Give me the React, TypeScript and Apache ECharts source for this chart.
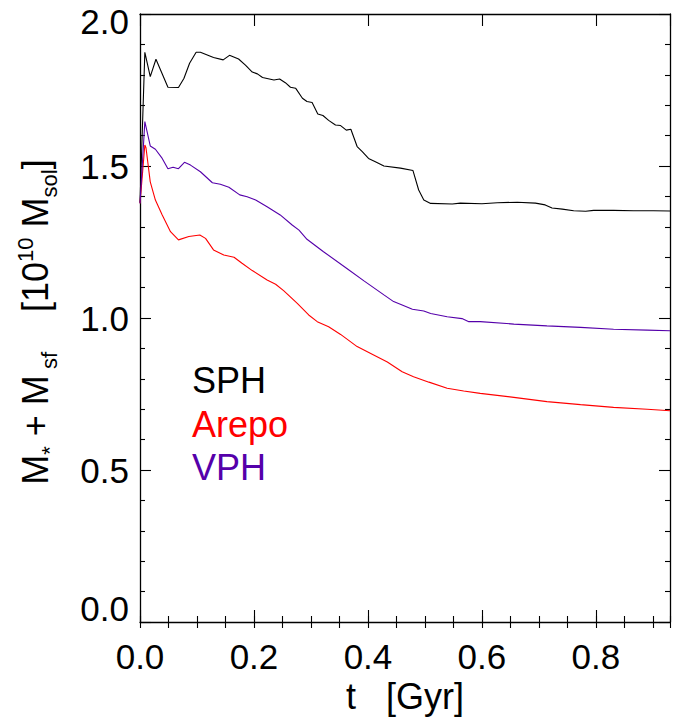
import React, { useEffect, useRef } from "react";
import * as echarts from "echarts";

const FONT = "'Liberation Sans', Arial, Helvetica, sans-serif";

const seriesNames = ["SPH", "Arepo", "VPH"];
const seriesColors = ["#000000", "#ff0000", "#5500aa"];

const sphT = [0, 0.0085, 0.018, 0.028, 0.049, 0.0675, 0.077, 0.087, 0.0985, 0.106, 0.129, 0.146, 0.157, 0.173, 0.185, 0.197, 0.206, 0.215, 0.235, 0.245, 0.255, 0.264, 0.273, 0.285, 0.293, 0.302, 0.312, 0.321, 0.331, 0.343, 0.352, 0.362, 0.37, 0.381, 0.39, 0.401, 0.413, 0.428, 0.457, 0.479, 0.489, 0.498, 0.51, 0.548, 0.562, 0.6, 0.627, 0.662, 0.694, 0.711, 0.723, 0.741, 0.761, 0.782, 0.796, 0.831, 0.866, 0.901, 0.93];
const sphV = [1.38, 1.874, 1.794, 1.851, 1.759, 1.758, 1.788, 1.838, 1.874, 1.874, 1.857, 1.849, 1.864, 1.852, 1.832, 1.809, 1.803, 1.791, 1.783, 1.786, 1.774, 1.759, 1.756, 1.723, 1.712, 1.709, 1.671, 1.666, 1.65, 1.635, 1.633, 1.618, 1.621, 1.564, 1.547, 1.525, 1.514, 1.5, 1.493, 1.485, 1.421, 1.388, 1.377, 1.375, 1.378, 1.376, 1.379, 1.381, 1.378, 1.372, 1.362, 1.358, 1.353, 1.351, 1.354, 1.354, 1.353, 1.353, 1.352];

const arepoT = [0, 0.0085, 0.0105, 0.018, 0.027, 0.039, 0.0535, 0.0675, 0.0857, 0.105, 0.115, 0.129, 0.147, 0.165, 0.179, 0.197, 0.223, 0.238, 0.252, 0.276, 0.296, 0.311, 0.331, 0.352, 0.381, 0.41, 0.434, 0.46, 0.48, 0.507, 0.539, 0.568, 0.597, 0.656, 0.714, 0.773, 0.831, 0.89, 0.93];
const arepoV = [1.377, 1.569, 1.56, 1.448, 1.388, 1.339, 1.284, 1.257, 1.268, 1.273, 1.262, 1.224, 1.207, 1.2, 1.18, 1.156, 1.125, 1.111, 1.09, 1.048, 1.01, 0.988, 0.971, 0.946, 0.906, 0.878, 0.855, 0.823, 0.807, 0.789, 0.769, 0.76, 0.752, 0.739, 0.725, 0.715, 0.706, 0.7, 0.695];

const vphT = [0, 0.0085, 0.018, 0.027, 0.039, 0.049, 0.058, 0.0675, 0.078, 0.0886, 0.106, 0.127, 0.141, 0.156, 0.175, 0.188, 0.203, 0.223, 0.246, 0.267, 0.279, 0.293, 0.322, 0.363, 0.393, 0.428, 0.445, 0.46, 0.478, 0.498, 0.51, 0.539, 0.565, 0.577, 0.597, 0.656, 0.714, 0.773, 0.831, 0.89, 0.93];
const vphV = [1.377, 1.646, 1.566, 1.555, 1.525, 1.491, 1.496, 1.491, 1.512, 1.503, 1.481, 1.445, 1.44, 1.43, 1.405, 1.399, 1.388, 1.366, 1.339, 1.306, 1.289, 1.259, 1.218, 1.163, 1.122, 1.076, 1.054, 1.043, 1.029, 1.023, 1.015, 1.004, 0.998, 0.988, 0.988, 0.98, 0.974, 0.969, 0.963, 0.96, 0.958];

const xMin = 0;
const xMax = 0.93;
const xMajor = 0.2;
const xMinor = 0.05;
const yMin = 0;
const yMax = 2;
const yMajor = 0.5;

const xTitle = "t   [Gyr]";

const zip = (t: number[], v: number[]) => t.map((x, i) => [x, v[i]]);

export default function App() {
  const ref = useRef<HTMLDivElement>(null);
  useEffect(() => {
    if (!ref.current) return;
    const chart = echarts.init(ref.current, null, { renderer: "svg" });
    const axisLine = { show: true, onZero: false, lineStyle: { color: "#000", width: 1.3 } };
    const tickStyle = { color: "#000", width: 1.1 };
    const xBase = {
      type: "value" as const,
      min: xMin,
      max: xMax,
      splitLine: { show: false },
    };
    const yBase = {
      type: "value" as const,
      min: yMin,
      max: yMax,
      interval: yMajor,
      splitLine: { show: false },
    };
    const lines = [zip(sphT, sphV), zip(arepoT, arepoV), zip(vphT, vphV)];
    chart.setOption({
      animation: false,
      grid: { left: 140, right: 3, top: 14, bottom: 101, containLabel: false },
      textStyle: { fontFamily: FONT },
      legend: {
        show: true,
        orient: "vertical",
        left: 182,
        top: 354,
        icon: "none",
        itemWidth: 0,
        itemHeight: 43.5,
        itemGap: 0,
        selectedMode: false,
        textStyle: { fontSize: 36, fontFamily: FONT, lineHeight: 43.5 },
        data: seriesNames.map((n, i) => ({ name: n, textStyle: { color: seriesColors[i] } })),
      },
      xAxis: [
        {
          ...xBase,
          position: "bottom",
          interval: xMajor,
          axisLine,
          axisTick: { show: true, inside: true, length: 12, lineStyle: tickStyle },
          axisLabel: {
            show: true,
            fontSize: 35,
            color: "#000",
            fontFamily: FONT,
            margin: 17,
            showMaxLabel: false,
            formatter: (v: number) => v.toFixed(1),
          },
          name: xTitle,
          nameLocation: "middle",
          nameGap: 56,
          nameTextStyle: { fontSize: 36, color: "#000", fontFamily: FONT },
        },
        {
          ...xBase,
          position: "bottom",
          interval: xMinor,
          axisLine: { show: false },
          axisTick: { show: true, inside: true, length: 6, lineStyle: tickStyle },
          axisLabel: { show: false },
        },
        {
          ...xBase,
          position: "top",
          interval: xMajor,
          axisLine,
          axisTick: { show: true, inside: true, length: 12, lineStyle: tickStyle },
          axisLabel: { show: false },
        },
        {
          ...xBase,
          position: "top",
          interval: xMinor,
          axisLine: { show: false },
          axisTick: { show: true, inside: true, length: 6, lineStyle: tickStyle },
          axisLabel: { show: false },
        },
      ],
      yAxis: [
        {
          ...yBase,
          position: "left",
          axisLine,
          axisTick: { show: true, inside: true, length: 11, lineStyle: tickStyle },
          minorTick: { show: true, splitNumber: 5, length: 5, lineStyle: tickStyle },
          axisLabel: {
            show: true,
            fontSize: 35,
            color: "#000",
            fontFamily: FONT,
            margin: 11,
            formatter: (v: number) => {
              const s = v.toFixed(1);
              if (v <= yMin) return `{lo|${s}}`;
              if (v >= yMax) return `{hi|${s}}`;
              return s;
            },
            rich: {
              lo: { fontSize: 35, fontFamily: FONT, color: "#000", padding: [0, 0, 28, 0] },
              hi: { fontSize: 35, fontFamily: FONT, color: "#000", padding: [15, 0, 0, 0] },
            },
          },
        },
        {
          ...yBase,
          position: "right",
          axisLine,
          axisTick: { show: true, inside: true, length: 11, lineStyle: tickStyle },
          minorTick: { show: true, splitNumber: 5, length: 5, lineStyle: tickStyle },
          axisLabel: { show: false },
        },
      ],
      graphic: [
        {
          type: "text",
          x: 35.5,
          y: 322,
          rotation: Math.PI / 2,
          style: {
            text: "{m|M}{sub|*}{m| + M}{sub| sf}{m|    [10}{sup|10}{m| M}{sub|sol}{m|]}",
            align: "center",
            verticalAlign: "middle",
            fill: "#000",
            font: `36px ${FONT}`,
            rich: {
              m: { fontSize: 36, fontFamily: FONT, fill: "#000" },
              sub: { fontSize: 22, fontFamily: FONT, fill: "#000", padding: [28, 0, 0, 0] },
              sup: { fontSize: 22, fontFamily: FONT, fill: "#000", padding: [0, 0, 20, 0] },
            },
          },
        },
      ],
      series: lines.map((d, i) => ({
        name: seriesNames[i],
        type: "line",
        xAxisIndex: 0,
        yAxisIndex: 0,
        data: d,
        showSymbol: false,
        symbol: "none",
        lineStyle: { color: seriesColors[i], width: 1.1 },
        itemStyle: { color: seriesColors[i] },
        z: 2 + i,
      })),
    });
    return () => chart.dispose();
  }, []);
  return (
    <div
      ref={ref}
      style={{ position: "fixed", left: 0, top: 0, width: 673, height: 723, background: "#fff" }}
    />
  );
}
